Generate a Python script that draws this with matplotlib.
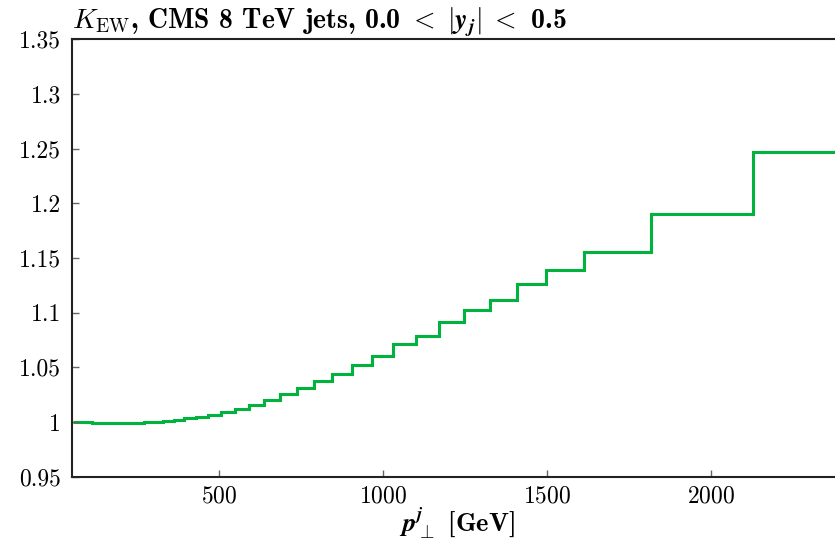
import matplotlib
matplotlib.use("Agg")
import matplotlib.pyplot as plt
from matplotlib.ticker import FormatStrFormatter

# bin edges (GeV) and K_EW values
pt_edges = [56, 64, 74, 84, 97, 114, 133, 153, 174, 196,
            220, 245, 272, 300, 330, 362, 395, 430, 468, 507,
            548, 592, 638, 686, 737, 790, 846, 905, 967, 1032,
            1101, 1172, 1248, 1327, 1410, 1497, 1614, 1818, 2128, 2500]
k_ew = [1.0000, 0.9999, 0.9998, 0.9997, 0.9996, 0.9995, 0.9994, 0.9994, 0.9993, 0.9993,
        0.9993, 0.9994, 0.9996, 0.9998, 1.0009, 1.0021, 1.0033, 1.0047, 1.0064, 1.0088,
        1.0116, 1.0158, 1.0200, 1.0252, 1.0307, 1.0374, 1.0436, 1.0518, 1.0600, 1.0715,
        1.0790, 1.0910, 1.1025, 1.1120, 1.1260, 1.1392, 1.1552, 1.1898, 1.2470]

x_ticks = [500, 1000, 1500, 2000]
y_ticks = [0.95, 1.0, 1.05, 1.1, 1.15, 1.2, 1.25, 1.3, 1.35]

plt.rcParams['font.family'] = 'cmr10'
plt.rcParams['mathtext.fontset'] = 'cm'
plt.rcParams['axes.formatter.use_mathtext'] = True

fig = plt.figure(figsize=(8.35, 5.41), dpi=100)
ax = fig.add_axes([0.0862, 0.1189, 0.9222, 0.8085])

ax.stairs(k_ew, pt_edges, color='#00b33c', lw=2.2, baseline=None)

ax.set_xlim(52, 2400)
ax.set_ylim(0.95, 1.35)
ax.set_xticks(x_ticks)
ax.set_yticks(y_ticks)
ax.yaxis.set_major_formatter(FormatStrFormatter('%g'))

ax.tick_params(direction='in', length=5, width=1, color='#666666',
               labelsize=17, right=True, top=False, pad=8)
ax.tick_params(axis='x', pad=6)
for side in ['left', 'bottom', 'top', 'right']:
    ax.spines[side].set_color('#222222')
    ax.spines[side].set_linewidth(1.5)

ax.set_xlabel(r'$\boldsymbol{p}_{\bot}^{\boldsymbol{j}}$ [GeV]', fontsize=19, family='cmb10', labelpad=-1)
ax.set_title(r'$K_{\mathrm{EW}}$, CMS 8 TeV jets, 0.0 '
             r'$<\;|\boldsymbol{y}_{\boldsymbol{j}}|\;<$ 0.5',
             loc='left', fontsize=20, family='cmb10', pad=5)

fig.savefig('out.png', dpi=100)
